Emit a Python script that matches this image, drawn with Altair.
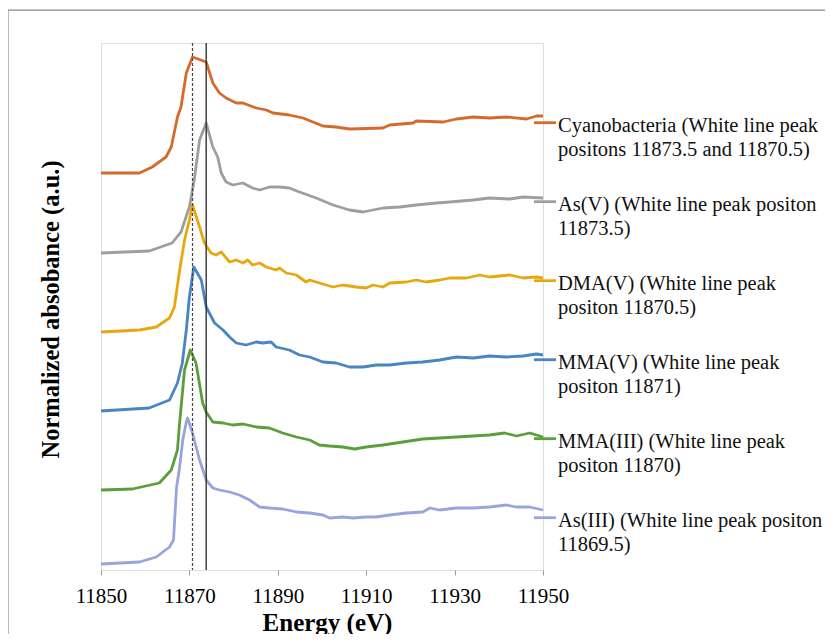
import altair as alt
import pandas as pd

series_names = ["Cyanobacteria", "As(V)", "DMA(V)", "MMA(V)", "MMA(III)", "As(III)"]
series_colors = ["#D6692C", "#9E9E9E", "#E6A80E", "#4985C2", "#5C9D3C", "#97A5DE"]
legend_text = [
    "Cyanobacteria (White line peak\npositons 11873.5 and 11870.5)",
    "As(V) (White line peak positon\n11873.5)",
    "DMA(V) (White line peak\npositon 11870.5)",
    "MMA(V) (White line peak\npositon 11871)",
    "MMA(III) (White line peak\npositon 11870)",
    "As(III) (White line peak positon\n11869.5)",
]
x_ticks = [11850, 11870, 11890, 11910, 11930, 11950]
peak_dashed = [11870.7]
peak_solid = [11873.8]

cyano_E = [11850, 11858.7, 11861.6, 11864.7, 11865.9, 11867.3, 11868.1, 11869.3, 11870.7, 11873.8,
           11875.3, 11876.8, 11878.3, 11880.6, 11882.1, 11885.1, 11887.4, 11888.9, 11892.6, 11895.7,
           11900.2, 11903.2, 11906.2, 11913.8, 11915.3, 11920.6, 11921.3, 11927.4, 11930.4, 11934.2,
           11937.9, 11941.7, 11946.3, 11948.5, 11950]
cyano_A = [3.97, 3.97, 4.03, 4.13, 4.23, 4.53, 4.63, 4.97, 5.13, 5.08,
           4.87, 4.77, 4.72, 4.67, 4.67, 4.62, 4.60, 4.57, 4.55, 4.52,
           4.44, 4.43, 4.41, 4.42, 4.45, 4.47, 4.49, 4.48, 4.51, 4.53,
           4.52, 4.53, 4.51, 4.54, 4.54]

asv_E = [11850, 11860.9, 11866.1, 11867.0, 11868.1, 11870.0, 11871.1, 11872.3, 11873.8, 11875.3,
         11876.4, 11877.2, 11878.3, 11879.8, 11882.1, 11884.3, 11885.9, 11888.1, 11890.4, 11892.6,
         11894.9, 11898.7, 11902.5, 11906.2, 11909.3, 11911.5, 11913.8, 11917.6, 11921.3, 11925.9,
         11928.9, 11934.2, 11937.9, 11942.5, 11945.5, 11950]
asv_A = [3.17, 3.19, 3.27, 3.32, 3.38, 3.63, 3.90, 4.30, 4.47, 4.23,
         4.13, 3.97, 3.88, 3.85, 3.87, 3.82, 3.80, 3.83, 3.83, 3.82,
         3.78, 3.72, 3.65, 3.60, 3.58, 3.60, 3.62, 3.63, 3.65, 3.67,
         3.68, 3.70, 3.72, 3.71, 3.73, 3.72]

dma_E = [11850, 11858.7, 11862.5, 11865.5, 11866.6, 11867.7, 11868.9, 11870.0, 11870.7, 11872.3,
         11873.4, 11874.9, 11876.0, 11877.2, 11879.1, 11880.6, 11882.1, 11883.2, 11884.3, 11885.9,
         11887.4, 11889.6, 11890.4, 11891.9, 11894.2, 11896.4, 11897.2, 11899.4, 11902.5, 11904.7,
         11907.7, 11910.0, 11911.5, 11913.8, 11915.3, 11919.1, 11921.3, 11923.6, 11926.6, 11928.9,
         11932.7, 11935.7, 11937.9, 11942.5, 11945.5, 11948.5, 11950]
dma_A = [2.38, 2.40, 2.43, 2.52, 2.63, 2.97, 3.30, 3.50, 3.65, 3.43,
         3.27, 3.17, 3.15, 3.18, 3.08, 3.10, 3.07, 3.10, 3.05, 3.07,
         3.03, 3.00, 3.02, 2.97, 2.95, 2.88, 2.90, 2.87, 2.83, 2.85,
         2.83, 2.82, 2.85, 2.83, 2.87, 2.88, 2.90, 2.88, 2.90, 2.92,
         2.92, 2.95, 2.93, 2.95, 2.92, 2.93, 2.92]

mmav_E = [11850, 11860.9, 11865.5, 11867.3, 11868.4, 11869.3, 11870.0, 11871.0, 11872.7, 11873.8,
          11875.7, 11877.6, 11879.1, 11880.6, 11882.8, 11885.1, 11886.6, 11888.5, 11889.6, 11892.6,
          11894.9, 11897.2, 11900.2, 11903.2, 11906.2, 11909.3, 11912.3, 11915.3, 11919.1, 11922.8,
          11926.6, 11930.4, 11934.2, 11937.9, 11941.7, 11945.5, 11948.5, 11950]
mmav_A = [1.59, 1.62, 1.70, 1.87, 2.07, 2.40, 2.73, 3.03, 2.90, 2.63,
          2.47, 2.40, 2.33, 2.27, 2.25, 2.28, 2.27, 2.28, 2.23, 2.20,
          2.15, 2.13, 2.08, 2.07, 2.03, 2.03, 2.05, 2.05, 2.07, 2.08,
          2.10, 2.13, 2.12, 2.14, 2.13, 2.14, 2.16, 2.15]

mmaiii_E = [11850, 11857.1, 11863.2, 11865.9, 11867.3, 11867.7, 11868.9, 11870.2, 11871.5, 11873.0,
            11873.8, 11875.3, 11877.6, 11879.8, 11882.1, 11885.1, 11888.1, 11891.1, 11894.2, 11897.2,
            11899.4, 11901.7, 11904.7, 11907.4, 11910.0, 11913.8, 11916.8, 11919.8, 11922.8, 11926.6,
            11930.4, 11934.2, 11937.9, 11941.3, 11944.0, 11947.0, 11950]
mmaiii_A = [0.80, 0.81, 0.87, 1.00, 1.20, 1.43, 2.00, 2.20, 2.07, 1.67,
            1.58, 1.48, 1.47, 1.45, 1.46, 1.43, 1.42, 1.37, 1.33, 1.30,
            1.25, 1.24, 1.23, 1.21, 1.23, 1.25, 1.27, 1.29, 1.31, 1.32,
            1.33, 1.34, 1.35, 1.37, 1.34, 1.37, 1.33]

asiii_E = [11850, 11858.7, 11862.5, 11865.5, 11866.4, 11867.1, 11867.7, 11868.5, 11869.3, 11869.6,
           11870.7, 11872.3, 11873.8, 11875.3, 11876.8, 11879.1, 11881.3, 11883.6, 11885.9, 11888.1,
           11891.1, 11894.2, 11897.2, 11900.2, 11901.7, 11904.7, 11907.0, 11910.0, 11912.3, 11915.3,
           11919.1, 11922.8, 11924.4, 11926.6, 11930.4, 11934.2, 11937.9, 11941.7, 11944.0, 11947.0,
           11950]
asiii_A = [0.06, 0.08, 0.13, 0.23, 0.30, 0.83, 1.00, 1.30, 1.48, 1.52,
           1.37, 1.10, 0.90, 0.82, 0.80, 0.78, 0.75, 0.70, 0.63, 0.62,
           0.61, 0.58, 0.57, 0.55, 0.52, 0.53, 0.52, 0.53, 0.53, 0.55,
           0.57, 0.58, 0.62, 0.60, 0.62, 0.62, 0.63, 0.65, 0.63, 0.63,
           0.60]

all_E = [cyano_E, asv_E, dma_E, mmav_E, mmaiii_E, asiii_E]
all_A = [cyano_A, asv_A, dma_A, mmav_A, mmaiii_A, asiii_A]

rows = []
for name, es, as_ in zip(series_names, all_E, all_A):
    assert len(es) == len(as_), name
    for i, (e, a) in enumerate(zip(es, as_)):
        rows.append({"series": name, "energy": e, "absorbance": a, "idx": i})
df = pd.DataFrame(rows)

FONT = "Liberation Serif"
W, H = 442, 527

x_enc = alt.X(
    "energy:Q",
    scale=alt.Scale(domain=[11850, 11950], nice=False, zero=False),
    axis=alt.Axis(
        values=x_ticks, format="d", title="Energy (eV)", grid=False,
        domain=False, ticks=True, tickSize=5, tickColor="#9a9a9a",
        labelFont=FONT, labelFontSize=21, labelColor="#000000",
        labelBaseline="alphabetic", labelPadding=27, labelFlush=False,
        titleFont=FONT, titleFontSize=25, titleFontWeight="bold", titleColor="#000000",
        titleBaseline="alphabetic", titleY=60, titleX=226,
    ),
)
y_enc = alt.Y(
    "absorbance:Q",
    scale=alt.Scale(domain=[0, 5.27], nice=False, zero=False),
    axis=alt.Axis(
        title="Normalized absobance (a.u.)", labels=False, ticks=False, domain=False, grid=False,
        titleFont=FONT, titleFontSize=24.5, titleFontWeight="bold", titleColor="#000000",
        titleBaseline="middle", titleX=-50, titleY=266, titleAngle=270,
    ),
)

lines = alt.Chart(df).mark_line(strokeWidth=2.8, interpolate="linear", strokeJoin="round").encode(
    x=x_enc,
    y=y_enc,
    color=alt.Color("series:N", scale=alt.Scale(domain=series_names, range=series_colors), legend=None),
    detail="series:N",
    order="idx:Q",
)

dashed = alt.Chart(pd.DataFrame({"e": peak_dashed})).mark_rule(
    color="#444444", strokeWidth=1.2, strokeDash=[3, 2]
).encode(x="e:Q")
solid = alt.Chart(pd.DataFrame({"e": peak_solid})).mark_rule(
    color="#333333", strokeWidth=1.4
).encode(x="e:Q")

layers = [lines, dashed, solid]

# legend drawn as Excel-style entries to the right of the plot
for i, (txt, col) in enumerate(zip(legend_text, series_colors)):
    sy = 79.7 + i * 79.0
    sw = alt.Chart(pd.DataFrame({"k": [0]})).mark_rule(color=col, strokeWidth=2.8).encode(
        x=alt.value(W - 9), x2=alt.value(W + 13), y=alt.value(sy)
    )
    tx = alt.Chart(pd.DataFrame({"k": [0]})).mark_text(
        text=txt, lineBreak="\n", lineHeight=23.6, align="left", baseline="alphabetic",
        font=FONT, fontSize=20.5, color="#111111"
    ).encode(x=alt.value(W + 15), y=alt.value(sy + 9.7))
    layers += [sw, tx]

# outer frame (top and left edges visible in the figure)
frame_top = alt.Chart(pd.DataFrame({"k": [0]})).mark_rule(color="#8a8a8a", strokeWidth=1.2).encode(
    x=alt.value(-93), x2=alt.value(760), y=alt.value(-32.8)
)
frame_left = alt.Chart(pd.DataFrame({"k": [0]})).mark_rule(color="#8a8a8a", strokeWidth=1.2).encode(
    x=alt.value(-93), y=alt.value(-32.8), y2=alt.value(640)
)
layers += [frame_top, frame_left]

chart = alt.layer(*layers).properties(
    width=W, height=H,
    autosize=alt.AutoSizeParams(type="none"),
    padding={"left": 93, "top": 35, "right": 282, "bottom": 64},
).configure_view(stroke="#8c8c8c", strokeWidth=1.4).configure(background="white")

chart.save("out.html", embed_options={"renderer": "svg", "actions": False})
